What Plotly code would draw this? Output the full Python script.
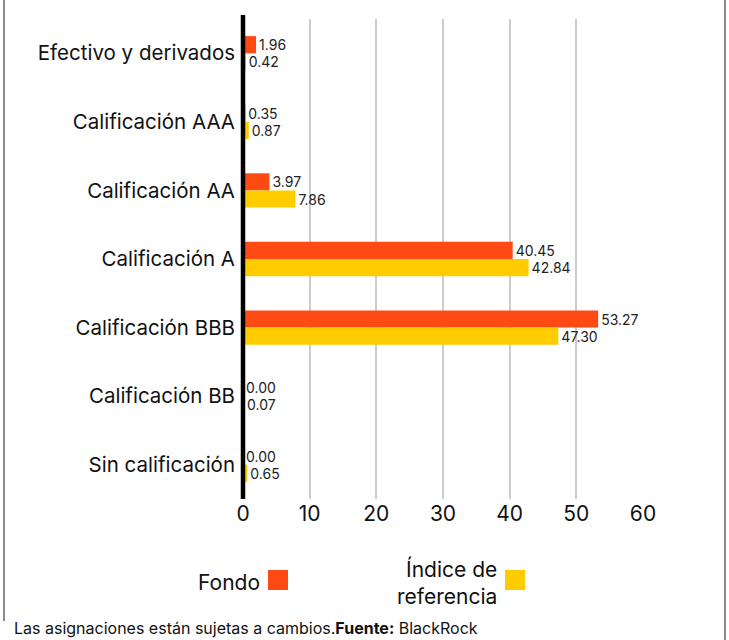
import plotly.graph_objects as go

categories = ["Efectivo y derivados", "Calificación AAA", "Calificación AA",
              "Calificación A", "Calificación BBB", "Calificación BB", "Sin calificación"]
fondo = [1.96, 0.35, 3.97, 40.45, 53.27, 0.00, 0.00]
indice = [0.42, 0.87, 7.86, 42.84, 47.30, 0.07, 0.65]
series_names = ["Fondo", "Índice de<br>referencia"]
colors = ["#FF4A14", "#FFCC00"]
x_ticks = [0, 10, 20, 30, 40, 50, 60]

FONT = "Inter, Roboto, Arial, sans-serif"

W, H = 729, 640
L, R, T, B = 243, 86, 19, 141
PW, PH = W - L - R, H - T - B

fig = go.Figure()
for name, vals, col in zip(series_names, [fondo, indice], colors):
    fig.add_trace(go.Bar(
        y=categories, x=vals, orientation="h", name=name,
        marker=dict(color=col, line=dict(width=0)),
        text=[f"{v:.2f}" for v in vals], textposition="outside",
        textfont=dict(size=14, color="#222222", family=FONT),
        cliponaxis=False, showlegend=False,
    ))

fig.update_layout(
    width=W, height=H,
    margin=dict(l=L, r=R, t=T, b=B),
    paper_bgcolor="white", plot_bgcolor="white",
    barmode="group", bargap=0.5, bargroupgap=0,
    font=dict(family=FONT, color="#111111"),
    xaxis=dict(range=[0, 60], tickvals=x_ticks, showgrid=True,
               gridcolor="#CCCCCC", gridwidth=2, zeroline=False,
               showline=False, ticks="", tickfont=dict(size=21, color="#111111")),
    yaxis=dict(autorange="reversed", showline=False, ticks="", showgrid=False,
               tickfont=dict(size=20.5, color="#111111"), ticklabelstandoff=7),
)

def px(x): return (x - L) / PW
def py(y): return (H - B - y) / PH

# thick black baseline at x = 0 (left edge of the plot area)
fig.add_shape(type="line", xref="paper", yref="paper", x0=0, x1=0, y0=0, y1=py(15),
              line=dict(color="#000000", width=4.5), layer="above")

legend_items = [
    (series_names[0], colors[0], 262, 582, 268),
    (series_names[1], colors[1], 499, 582, 505),
]
for name, col, tx, ty, sx in legend_items:
    fig.add_annotation(text=name, x=px(tx), y=py(ty), xref="paper", yref="paper",
                       xanchor="right", yanchor="middle", showarrow=False, align="right",
                       font=dict(size=21, color="#111111", family=FONT))
    fig.add_shape(type="rect", xref="paper", yref="paper",
                  x0=px(sx), x1=px(sx + 20), y0=py(590), y1=py(570),
                  fillcolor=col, line=dict(width=0))

fig.add_annotation(text="Las asignaciones están sujetas a cambios.<b>Fuente:</b> BlackRock",
                   x=px(12), y=py(628), xref="paper", yref="paper",
                   xanchor="left", yanchor="middle", showarrow=False,
                   font=dict(size=16, color="#111111", family=FONT))

# frame lines
fig.add_shape(type="line", xref="paper", yref="paper", x0=px(4), x1=px(4),
              y0=py(0), y1=py(621), line=dict(color="#8A8A8A", width=2))
fig.add_shape(type="line", xref="paper", yref="paper", x0=px(725), x1=px(725),
              y0=py(0), y1=py(640), line=dict(color="#8A8A8A", width=2))

fig.write_html("out.html", config={"displayModeBar": False},
               post_script="document.body.style.margin='0';document.body.style.overflow='hidden';")
